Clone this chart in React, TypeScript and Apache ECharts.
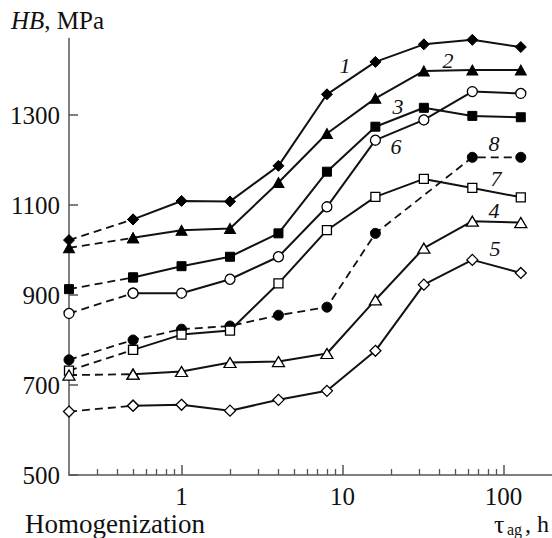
import React, { useEffect, useRef } from 'react';
import * as echarts from 'echarts';

// ageing time, h (first point = homogenized state)
const times = [0.2, 0.5, 1, 2, 4, 8, 16, 32, 64, 128];

// HB, MPa
const curve1 = [1022, 1068, 1109, 1108, 1187, 1346, 1418, 1457, 1467, 1451];
const curve2 = [1005, 1027, 1044, 1048, 1150, 1259, 1337, 1398, 1400, 1400];
const curve3 = [913, 939, 964, 985, 1037, 1174, 1274, 1316, 1298, 1295];
const curve6 = [859, 904, 904, 935, 985, 1096, 1244, 1289, 1352, 1348];
const curve8 = [756, 800, 824, 831, 855, 873, 1037, null, 1206, 1206];
const curve7 = [732, 778, 812, 821, 926, 1044, 1118, 1158, 1138, 1117];
const curve4 = [722, 724, 730, 750, 752, 770, 889, 1004, 1064, 1061];
const curve5 = [641, 654, 656, 643, 667, 687, 776, 923, 978, 949];

// tick values
const yTicks = [500, 700, 900, 1100, 1300];
const xMajorTicks = [1, 10, 100];
const xMinorTicks = [0.3, 0.4, 0.5, 0.6, 0.7, 0.8, 0.9, 2, 3, 4, 5, 6, 7, 8, 9, 20, 30, 40, 50, 60, 70, 80, 90];

// curve number annotations (data coordinates)
const labelNames = ['1', '2', '3', '6', '8', '7', '4', '5'];
const labelX = [10.36, 45.2, 22.1, 21.5, 87.3, 89.8, 87.3, 88.5];
const labelY = [1411, 1422, 1318, 1229, 1236, 1160, 1087, 1004];

const SERIF = 'Liberation Serif';

const curves = [
  { id: '1', values: curve1, symbol: 'diamond', filled: true, size: 11, allDashed: false },
  { id: '2', values: curve2, symbol: 'triangle', filled: true, size: [11, 10], allDashed: false },
  { id: '3', values: curve3, symbol: 'rect', filled: true, size: 9, allDashed: false },
  { id: '6', values: curve6, symbol: 'circle', filled: false, size: 10, allDashed: false },
  { id: '8', values: curve8, symbol: 'circle', filled: true, size: 10, allDashed: true },
  { id: '7', values: curve7, symbol: 'rect', filled: false, size: 9, allDashed: false },
  { id: '4', values: curve4, symbol: 'triangle', filled: false, size: [12, 10], allDashed: false },
  { id: '5', values: curve5, symbol: 'diamond', filled: false, size: 11, allDashed: false },
];

export default function App() {
  const ref = useRef<HTMLDivElement>(null);

  useEffect(() => {
    if (!ref.current) return;
    const chart = echarts.init(ref.current, undefined, { renderer: 'svg' });

    const series: any[] = [];
    curves.forEach((c) => {
      const pts = times.map((t, i) => [t, c.values[i]]);
      const itemStyle = c.filled
        ? { color: '#000', borderColor: '#000', borderWidth: 1 }
        : { color: '#fff', borderColor: '#000', borderWidth: 1.3 };
      const base = {
        type: 'line',
        xAxisIndex: 0,
        yAxisIndex: 0,
        symbol: c.symbol,
        symbolSize: c.size,
        showSymbol: true,
        clip: false,
        itemStyle,
        silent: true,
        connectNulls: true,
      };
      const li = labelNames.indexOf(c.id);
      const markPoint = li >= 0
        ? {
            symbol: 'circle',
            symbolSize: 0,
            silent: true,
            label: {
              show: true,
              position: 'inside',
              formatter: labelNames[li],
              fontFamily: SERIF,
              fontStyle: 'italic',
              fontSize: 22,
              color: '#111',
            },
            data: [{ coord: [labelX[li], labelY[li]] }],
          }
        : undefined;
      if (c.allDashed) {
        series.push({
          ...base,
          data: pts,
          lineStyle: { color: '#111', width: 1.8, type: [8, 5] },
          markPoint,
        });
      } else {
        series.push({
          ...base,
          data: pts.slice(0, 2),
          lineStyle: { color: '#111', width: 1.8, type: [8, 5] },
        });
        series.push({
          ...base,
          data: pts.slice(1),
          lineStyle: { color: '#111', width: 2, type: 'solid' },
          markPoint,
        });
      }
    });

    const axisColor = '#555';

    chart.setOption({
      animation: false,
      grid: { left: 69, right: 0, top: 38.5, bottom: 63, containLabel: false },
      xAxis: [
        {
          type: 'log',
          logBase: 10,
          min: 0.2,
          max: 200,
          position: 'bottom',
          axisLine: { show: true, lineStyle: { color: axisColor, width: 1.5 } },
          axisTick: {
            show: true,
            inside: true,
            length: 10,
            customValues: xMajorTicks,
            lineStyle: { color: axisColor, width: 1.5 },
          },
          axisLabel: {
            show: true,
            customValues: xMajorTicks,
            margin: 9,
            fontFamily: SERIF,
            fontSize: 25,
            lineHeight: 25,
            color: '#111',
            formatter: (v: number) => String(v),
          },
          splitLine: { show: false },
          minorTick: { show: false },
        },
        {
          type: 'log',
          logBase: 10,
          min: 0.2,
          max: 200,
          position: 'bottom',
          axisLine: { show: false },
          axisTick: {
            show: true,
            inside: true,
            length: 6,
            customValues: xMinorTicks,
            lineStyle: { color: axisColor, width: 1.3 },
          },
          axisLabel: { show: false },
          splitLine: { show: false },
        },
      ],
      yAxis: {
        type: 'value',
        min: 500,
        max: 1470,
        axisLine: { show: true, lineStyle: { color: axisColor, width: 1.5 } },
        axisTick: {
          show: true,
          inside: true,
          length: 9,
          customValues: yTicks,
          lineStyle: { color: axisColor, width: 1.5 },
        },
        axisLabel: {
          show: true,
          customValues: yTicks,
          margin: 9,
          fontFamily: SERIF,
          fontSize: 25,
          color: '#111',
          formatter: (v: number) => String(v),
        },
        splitLine: { show: false },
      },
      graphic: [
        {
          type: 'text',
          left: 11,
          top: 8,
          silent: true,
          style: {
            text: '{i|HB}{n|, MPa}',
            rich: {
              i: { fontFamily: SERIF, fontStyle: 'italic', fontSize: 25, fill: '#111' },
              n: { fontFamily: SERIF, fontSize: 25, fill: '#111' },
            },
          },
        },
        {
          type: 'text',
          x: 25,
          y: 524,
          silent: true,
          style: {
            text: 'Homogenization',
            fontFamily: SERIF,
            fontSize: 27,
            fill: '#111',
            verticalAlign: 'middle',
            align: 'left',
          },
        },
        {
          type: 'text',
          x: 494,
          y: 524,
          silent: true,
          style: { text: 'τ', fontFamily: SERIF, fontSize: 26, fill: '#111', verticalAlign: 'middle', align: 'left' },
        },
        {
          type: 'text',
          x: 507,
          y: 529,
          silent: true,
          style: { text: 'ag', fontFamily: SERIF, fontSize: 16, fill: '#111', verticalAlign: 'middle', align: 'left' },
        },
        {
          type: 'text',
          x: 525,
          y: 524,
          silent: true,
          style: { text: ', h', fontFamily: SERIF, fontSize: 24, fill: '#111', verticalAlign: 'middle', align: 'left' },
        },
      ],
      series,
    });

    return () => {
      chart.dispose();
    };
  }, []);

  return (
    <div
      ref={ref}
      style={{ position: 'absolute', left: 0, top: 0, width: 552, height: 538, background: '#fff' }}
    />
  );
}
